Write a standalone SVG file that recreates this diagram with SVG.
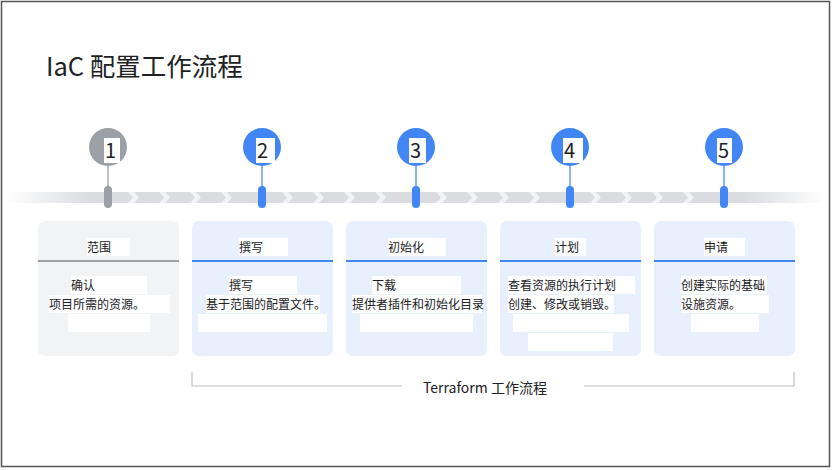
<svg xmlns="http://www.w3.org/2000/svg" width="833" height="470" viewBox="0 0 833 470">
<style>
text{font-family:"Noto Sans CJK SC","Noto Sans",sans-serif;fill:#202124}
.t{font-size:12px}
.num{font-size:20px}
.bg{fill:#ffffff}
.card1{fill:#f1f3f4}
.card{fill:#e8f0fe}
.gray{fill:#9aa0a6}
.blue{fill:#4285f4}
</style>
<defs>
<linearGradient id="fadeL" x1="0" x2="1" y1="0" y2="0"><stop offset="0" stop-color="#dadce0" stop-opacity="0"/><stop offset="1" stop-color="#dadce0"/></linearGradient>
<linearGradient id="fadeR" x1="0" x2="1" y1="0" y2="0"><stop offset="0" stop-color="#dadce0"/><stop offset="1" stop-color="#dadce0" stop-opacity="0"/></linearGradient>
<path id="chev" d="M-5,192 L1,192 L6,197.5 L1,203 L-5,203 L0,197.5 Z" fill="#f1f3f4"/>
</defs>
<rect x="1.5" y="1.5" width="828" height="465" fill="#fff" stroke="#555" stroke-width="1.5"/>
<text x="46" y="76" style="font-size:25.5px">IaC 配置工作流程</text>

<g id="track">
<rect x="5" y="192" width="86" height="11" fill="url(#fadeL)"/>
<rect x="90" y="192" width="654" height="11" fill="#dadce0"/>
<rect x="743" y="192" width="84" height="11" fill="url(#fadeR)"/>
<use href="#chev" x="133"/><use href="#chev" x="164"/><use href="#chev" x="195"/><use href="#chev" x="226"/>
<use href="#chev" x="287"/><use href="#chev" x="318"/><use href="#chev" x="349"/><use href="#chev" x="380"/>
<use href="#chev" x="441"/><use href="#chev" x="472"/><use href="#chev" x="503"/><use href="#chev" x="534"/>
<use href="#chev" x="595"/><use href="#chev" x="626"/><use href="#chev" x="657"/><use href="#chev" x="688"/>
</g>

<g id="connectors">
<line x1="108" y1="166" x2="108" y2="187" stroke="#bdc1c6" stroke-width="2"/>
<line x1="262" y1="166" x2="262" y2="187" stroke="#8ab4f8" stroke-width="2"/>
<line x1="416" y1="166" x2="416" y2="187" stroke="#8ab4f8" stroke-width="2"/>
<line x1="570" y1="166" x2="570" y2="187" stroke="#8ab4f8" stroke-width="2"/>
<line x1="724" y1="166" x2="724" y2="187" stroke="#8ab4f8" stroke-width="2"/>
<path d="M192,372 V386 H402 M584,386 H794 V372" fill="none" stroke="#bdc1c6" stroke-width="1.2"/>
</g>

<g id="step1">
<circle cx="108" cy="147" r="19" class="gray"/>
<rect x="104" y="186" width="8" height="22" rx="4" class="gray"/>
<rect x="104" y="138" width="16" height="25" class="bg"/>
<text x="105" y="158" class="num">1</text>
<rect x="38" y="221" width="141" height="135" rx="7" class="card1"/>
<rect x="38" y="260" width="141" height="2" fill="#9aa0a6"/>
<rect x="87" y="238" width="43" height="18" class="bg"/>
<text x="87" y="252" class="t">范围</text>
<rect x="71" y="276" width="76" height="18" class="bg"/>
<text x="71" y="290" class="t">确认</text>
<rect x="49" y="295" width="121" height="18" class="bg"/>
<text x="49" y="309" class="t">项目所需的资源。</text>
<rect x="68" y="314" width="82" height="18" class="bg"/>
</g>

<g id="step2">
<circle cx="262" cy="147" r="19" class="blue"/>
<rect x="258" y="186" width="8" height="22" rx="4" class="blue"/>
<rect x="256" y="138" width="19" height="25" class="bg"/>
<text x="257" y="158" class="num">2</text>
<rect x="192" y="221" width="141" height="135" rx="7" class="card"/>
<rect x="192" y="260" width="141" height="2" fill="#4285f4"/>
<rect x="239" y="238" width="49" height="18" class="bg"/>
<text x="239" y="252" class="t">撰写</text>
<rect x="229" y="276" width="68" height="18" class="bg"/>
<text x="229" y="290" class="t">撰写</text>
<rect x="206" y="295" width="114" height="18" class="bg"/>
<text x="206" y="309" class="t">基于范围的配置文件。</text>
<rect x="198" y="314" width="129" height="18" class="bg"/>
</g>

<g id="step3">
<circle cx="416" cy="147" r="19" class="blue"/>
<rect x="412" y="186" width="8" height="22" rx="4" class="blue"/>
<rect x="409" y="138" width="17" height="25" class="bg"/>
<text x="410" y="158" class="num">3</text>
<rect x="346" y="221" width="141" height="135" rx="7" class="card"/>
<rect x="346" y="260" width="141" height="2" fill="#4285f4"/>
<rect x="388" y="238" width="58" height="18" class="bg"/>
<text x="388" y="252" class="t">初始化</text>
<rect x="372" y="276" width="89" height="18" class="bg"/>
<text x="372" y="290" class="t">下载</text>
<rect x="352" y="295" width="130" height="18" class="bg"/>
<text x="352" y="309" class="t">提供者插件和初始化目录</text>
<rect x="360" y="314" width="113" height="18" class="bg"/>
</g>

<g id="step4">
<circle cx="570" cy="147" r="19" class="blue"/>
<rect x="566" y="186" width="8" height="22" rx="4" class="blue"/>
<rect x="563" y="138" width="20" height="25" class="bg"/>
<text x="564" y="158" class="num">4</text>
<rect x="500" y="221" width="141" height="135" rx="7" class="card"/>
<rect x="500" y="260" width="141" height="2" fill="#4285f4"/>
<rect x="555" y="238" width="31" height="18" class="bg"/>
<text x="555" y="252" class="t">计划</text>
<rect x="508" y="276" width="127" height="18" class="bg"/>
<text x="508" y="290" class="t">查看资源的执行计划</text>
<rect x="508" y="295" width="106" height="18" class="bg"/>
<text x="508" y="309" class="t">创建、修改或销毁。</text>
<rect x="513" y="314" width="116" height="18" class="bg"/>
<rect x="528" y="333" width="85" height="18" class="bg"/>
</g>

<g id="step5">
<circle cx="724" cy="147" r="19" class="blue"/>
<rect x="720" y="186" width="8" height="22" rx="4" class="blue"/>
<rect x="717" y="138" width="15" height="25" class="bg"/>
<text x="718" y="158" class="num">5</text>
<rect x="654" y="221" width="141" height="135" rx="7" class="card"/>
<rect x="654" y="260" width="141" height="2" fill="#4285f4"/>
<rect x="704" y="238" width="41" height="18" class="bg"/>
<text x="704" y="252" class="t">申请</text>
<rect x="681" y="276" width="86" height="18" class="bg"/>
<text x="681" y="290" class="t">创建实际的基础</text>
<rect x="681" y="295" width="88" height="18" class="bg"/>
<text x="681" y="309" class="t">设施资源。</text>
<rect x="691" y="314" width="68" height="18" class="bg"/>
</g>

<g id="bracket-label">
<text x="423" y="393" style="font-size:14px">Terraform 工作流程</text>
</g>
</svg>
